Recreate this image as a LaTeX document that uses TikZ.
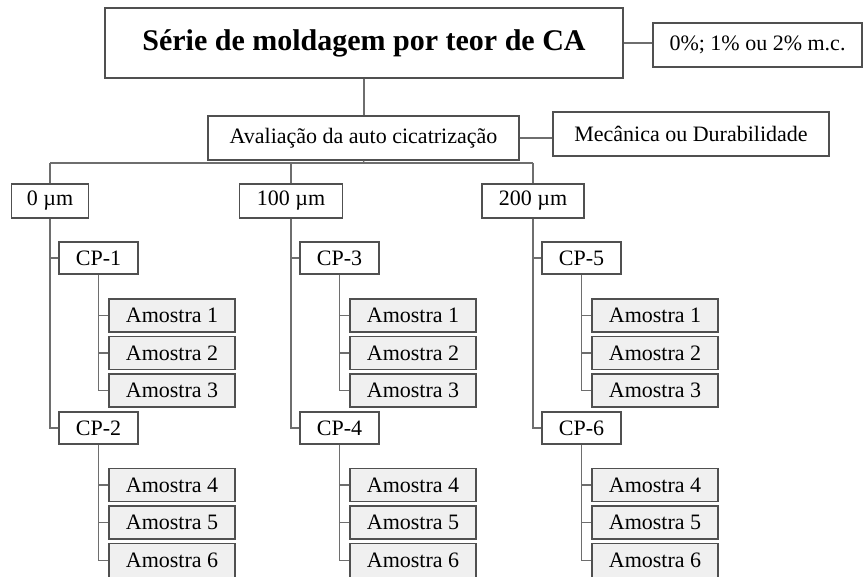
\documentclass[tikz,border=0pt]{standalone}
\usepackage{fontspec}
\setmainfont{Liberation Serif}
\definecolor{bordc}{RGB}{80,80,80}
\definecolor{linec}{RGB}{110,110,110}
\definecolor{fillc}{RGB}{240,240,240}
\begin{document}
\begin{tikzpicture}[x=1pt,y=-1pt,
  box/.style={draw=bordc,line width=1.1pt,fill=white,inner sep=0pt,anchor=center,
    font=\fontsize{22}{26}\selectfont,text=black},
  sbox/.style={box,fill=fillc},
  conn/.style={draw=linec,line width=1.3pt}]
\useasboundingbox (0,0) rectangle (864,576);
\node[box,minimum width=518,minimum height=70,font=\fontsize{30}{34}\selectfont\bfseries] (main) at (364,43) {Série de moldagem por teor de CA};
\node[box,minimum width=209,minimum height=44] (side) at (757.5,45) {0\%; 1\% ou 2\% m.c.};
\node[box,minimum width=311,minimum height=44] (aval) at (363.5,138) {Avaliação da auto cicatrização};
\node[box,minimum width=276,minimum height=44] (mec) at (691,134) {Mecânica ou Durabilidade};
\coordinate (bus) at (364,163);
\draw[conn] (main.east) -- (main.east -| side.west);
\draw[conn] (main.south) -- (main.south |- aval.north);
\draw[conn] (aval.east) -- (aval.east -| mec.west);
\draw[conn] (aval.south) -- (bus);
\foreach \c/\o/\lab/\w/\p/\q in {0/0/0 µm/77/1/2, 1/241/100 µm/103/3/4, 2/483/200 µm/102/5/6}{
  \node[box,minimum width=\w,minimum height=34] (lev\c) at (50+\o,201) {\lab};
  \draw[conn] (lev\c.north) -- (lev\c.north |- bus);
  \node[box,minimum width=79,minimum height=32] (cpa\c) at (98.5+\o,258) {CP-\p};
  \node[box,minimum width=79,minimum height=32] (cpb\c) at (98.5+\o,428) {CP-\q};
  \node[sbox,minimum width=126,minimum height=33] (am1\c) at (172+\o,315.5) {Amostra 1};
  \node[sbox,minimum width=126,minimum height=33] (am2\c) at (172+\o,353) {Amostra 2};
  \node[sbox,minimum width=126,minimum height=33] (am3\c) at (172+\o,390.5) {Amostra 3};
  \node[sbox,minimum width=126,minimum height=33] (am4\c) at (172+\o,485) {Amostra 4};
  \node[sbox,minimum width=126,minimum height=33] (am5\c) at (172+\o,522.5) {Amostra 5};
  \node[sbox,minimum width=126,minimum height=34] (am6\c) at (172+\o,560.5) {Amostra 6};
  \draw[conn] (lev\c.south) |- (cpb\c.west);
  \draw[conn] (lev\c.south |- cpa\c.west) -- (cpa\c.west);
  \draw[conn] (cpa\c.south) |- (am3\c.west);
  \draw[conn] (cpa\c.south |- am1\c.west) -- (am1\c.west);
  \draw[conn] (cpa\c.south |- am2\c.west) -- (am2\c.west);
  \draw[conn] (cpb\c.south) |- (am6\c.west);
  \draw[conn] (cpb\c.south |- am4\c.west) -- (am4\c.west);
  \draw[conn] (cpb\c.south |- am5\c.west) -- (am5\c.west);
}
\draw[conn] (lev0.north |- bus) -- (lev2.north |- bus);
\end{tikzpicture}
\end{document}
